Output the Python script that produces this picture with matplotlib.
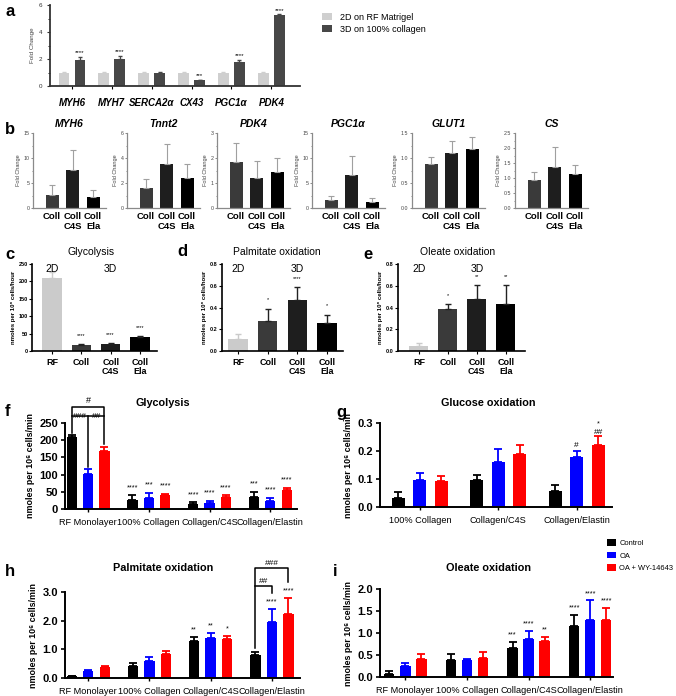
import matplotlib
matplotlib.use('Agg')
import matplotlib.pyplot as plt
import numpy as np
from matplotlib.ticker import AutoMinorLocator

plt.rcParams['font.family'] = ['Liberation Sans', 'DejaVu Sans']

# ---------------- data ----------------
# panel a
a_genes = ['MYH6', 'MYH7', 'SERCA2α', 'CX43', 'PGC1α', 'PDK4']
a_2d = [1.0, 1.0, 1.0, 1.0, 1.0, 1.0]
a_2d_err = [0.02, 0.02, 0.02, 0.02, 0.02, 0.02]
a_3d = [1.95, 1.97, 0.93, 0.42, 1.75, 5.25]
a_3d_err = [0.2, 0.28, 0.12, 0.03, 0.2, 0.05]
a_stars = ['****', '****', '', '***', '****', '****']
a_legend = ['2D on RF Matrigel', '3D on 100% collagen']

# panel b
b_cats = ['Coll', 'Coll\nC4S', 'Coll\nEla']
b_titles = ['MYH6', 'Tnnt2', 'PDK4', 'PGC1α', 'GLUT1', 'CS']
b_myh6 = [2.7, 7.7, 2.3]
b_myh6_err = [2.0, 4.0, 1.4]
b_tnnt2 = [1.6, 3.5, 2.4]
b_tnnt2_err = [0.7, 1.6, 1.1]
b_pdk4 = [1.85, 1.2, 1.45]
b_pdk4_err = [0.75, 0.7, 0.55]
b_pgc1a = [1.7, 6.6, 1.3]
b_pgc1a_err = [0.8, 3.9, 0.8]
b_glut1 = [0.88, 1.1, 1.18]
b_glut1_err = [0.15, 0.25, 0.24]
b_cs = [0.95, 1.37, 1.15]
b_cs_err = [0.25, 0.65, 0.27]
b_yticks = [[0, 5, 10, 15], [0, 2, 4, 6], [0, 1, 2, 3], [0, 5, 10, 15],
            [0.0, 0.5, 1.0, 1.5], [0.0, 0.5, 1.0, 1.5, 2.0, 2.5]]

# panels c-e
ce_cats = ['RF', 'Coll', 'Coll\nC4S', 'Coll\nEla']
c_vals = [210, 16, 20, 40]
c_err = [18, 4, 3, 4]
c_stars = ['', '****', '****', '****']
d_vals = [0.11, 0.28, 0.47, 0.26]
d_err = [0.05, 0.11, 0.115, 0.075]
d_stars = ['', '*', '****', '*']
e_vals = [0.05, 0.39, 0.48, 0.43]
e_err = [0.02, 0.04, 0.125, 0.18]
e_stars = ['', '*', '**', '**']

# panels f-i
groups4 = ['RF Monolayer', '100% Collagen', 'Collagen/C4S', 'Collagen/Elastin']
groups3 = ['100% Collagen', 'Collagen/C4S', 'Collagen/Elastin']
series_names = ['Control', 'OA', 'OA + WY-14643']

f_ctrl = [210, 26, 15, 36]
f_ctrl_err = [6, 14, 4, 14]
f_oa = [103, 32, 17, 22]
f_oa_err = [12, 14, 6, 10]
f_wy = [170, 42, 36, 56]
f_wy_err = [10, 2, 4, 6]
f_stars = [['', '****', '****', '***'], ['', '***', '****', '****'], ['', '****', '****', '****']]

g_ctrl = [0.033, 0.098, 0.056]
g_ctrl_err = [0.019, 0.018, 0.022]
g_oa = [0.098, 0.16, 0.178]
g_oa_err = [0.024, 0.047, 0.022]
g_wy = [0.092, 0.188, 0.222]
g_wy_err = [0.02, 0.034, 0.03]

h_ctrl = [0.06, 0.42, 1.3, 0.8]
h_ctrl_err = [0.02, 0.11, 0.12, 0.1]
h_oa = [0.25, 0.58, 1.4, 1.95]
h_oa_err = [0.02, 0.14, 0.17, 0.47]
h_wy = [0.38, 0.84, 1.35, 2.23]
h_wy_err = [0.04, 0.11, 0.12, 0.57]
h_stars = [['', '', '**', ''], ['', '', '**', '****'], ['', '', '*', '****']]

i_ctrl = [0.07, 0.38, 0.65, 1.17]
i_ctrl_err = [0.06, 0.14, 0.15, 0.25]
i_oa = [0.26, 0.38, 0.87, 1.3]
i_oa_err = [0.06, 0.03, 0.18, 0.44]
i_wy = [0.4, 0.44, 0.82, 1.3]
i_wy_err = [0.12, 0.13, 0.1, 0.26]
i_stars = [['', '', '***', '****'], ['', '', '****', '****'], ['', '', '**', '****']]

# ---------------- figure ----------------
W, H = 676, 696
fig = plt.figure(figsize=(W / 100, H / 100), dpi=100)


def ax_px(l, t, r, b):
    return fig.add_axes([l / W, 1 - b / H, (r - l) / W, (b - t) / H])


def ftext(x, y, s, **kw):
    fig.text(x / W, 1 - y / H, s, **kw)


def letter(x, y, s):
    ftext(x, y, s, fontsize=12, fontweight='bold', ha='left', va='center')


def style(ax, color='black', lw=1.2):
    for sp in ['top', 'right']:
        ax.spines[sp].set_visible(False)
    for sp in ['left', 'bottom']:
        ax.spines[sp].set_color(color)
        ax.spines[sp].set_linewidth(lw)


def up_err(vals, errs):
    return [np.zeros(len(vals)), np.array(errs)]


def bars_each(ax, xs, vals, errs, width, colors, ecolors, capsize, elw):
    for xi, v, e, c, ec in zip(xs, vals, errs, colors, ecolors):
        ax.bar([xi], [v], width, color=c, yerr=[[0], [e]], capsize=capsize,
               error_kw=dict(ecolor=ec, elinewidth=elw, capthick=elw))


# ---- panel a ----
ax = ax_px(50, 5, 300, 86)
style(ax, '#333333', 1.3)
x = np.arange(len(a_genes))
b1 = ax.bar(x - 0.2, a_2d, 0.27, color='#cfcfcf', yerr=up_err(a_2d, a_2d_err), capsize=1.5,
            error_kw=dict(ecolor='#cfcfcf', elinewidth=0.8))
b2 = ax.bar(x + 0.2, a_3d, 0.27, color='#474747', yerr=up_err(a_3d, a_3d_err), capsize=1.5,
            error_kw=dict(ecolor='#474747', elinewidth=0.8))
for xi, v, e, s in zip(x, a_3d, a_3d_err, a_stars):
    if s:
        ax.text(xi + 0.2, v + e + 0.12, s, ha='center', va='bottom', fontsize=4.5)
ax.set_ylim(0, 6)
ax.set_xlim(-0.55, 5.72)
ax.set_yticks([0, 2, 4, 6])
ax.tick_params(axis='y', labelsize=4.5, length=2, width=0.8, colors='#333333')
ax.set_xticks(x)
ax.set_xticklabels(a_genes, fontsize=7, fontweight='bold', fontstyle='italic')
ax.tick_params(axis='x', length=2.5, width=0.8, pad=6)
ax.set_ylabel('Fold Change', fontsize=4.5, color='#444444', labelpad=3)
ax.yaxis.set_minor_locator(AutoMinorLocator(2))
ax.tick_params(axis='y', which='minor', length=1.2, width=0.6)
fig.legend([b1, b2], a_legend, loc='upper left', bbox_to_anchor=(318 / W, 1 - 9 / H),
           frameon=False, fontsize=6.5, handlelength=1.2, handleheight=0.9,
           labelspacing=0.35, handletextpad=0.8, borderaxespad=0)
letter(5, 12, 'a')

# ---- panel b ----
b_data = [(b_myh6, b_myh6_err), (b_tnnt2, b_tnnt2_err), (b_pdk4, b_pdk4_err),
          (b_pgc1a, b_pgc1a_err), (b_glut1, b_glut1_err), (b_cs, b_cs_err)]
b_lefts = [33, 127, 217, 312, 412, 515]
b_colors = ['#3a3a3a', '#1e1e1e', '#000000']
for left, (vals, errs), title, yt in zip(b_lefts, b_data, b_titles, b_yticks):
    ax = ax_px(left, 133, left + 73, 208)
    style(ax, '#8a8a8a', 0.9)
    xb = np.arange(3)
    ax.bar(xb, vals, 0.63, color=b_colors, yerr=up_err(vals, errs), capsize=2,
           error_kw=dict(ecolor='#a0a0a0', elinewidth=0.8, capthick=0.8))
    ax.set_xlim(-0.93, 2.63)
    ax.set_ylim(yt[0], yt[-1])
    ax.set_yticks(yt)
    if isinstance(yt[1], float):
        ax.set_yticklabels(['%.1f' % t for t in yt])
    ax.yaxis.set_minor_locator(AutoMinorLocator(2))
    ax.tick_params(axis='y', which='both', labelsize=3.8, length=1.5, width=0.6,
                   colors='#777777', labelcolor='#444444', pad=1)
    ax.tick_params(axis='y', which='minor', length=0.9)
    ax.set_xticks(xb)
    ax.set_xticklabels(b_cats, fontsize=6.8, fontweight='bold', linespacing=1.05)
    ax.tick_params(axis='x', length=0, pad=3)
    ax.set_ylabel('Fold Change', fontsize=4, color='#444444', labelpad=2)
    ax.set_title(title, fontsize=7.5, fontweight='bold', fontstyle='italic', pad=4)
letter(5, 130, 'b')

# ---- panels c, d, e ----
ce_colors = ['#cbcbcb', '#3a3a3a', '#1e1e1e', '#000000']
ce_ecolors = ['#cbcbcb', '#222222', '#222222', '#222222']
ce_specs = [
    (32, 157, c_vals, c_err, c_stars, 'Glycolysis', (-0.68, 3.58), [0, 50, 100, 150, 200, 250], '%d', 91),
    (222, 343, d_vals, d_err, d_stars, 'Palmitate oxidation', (-0.54, 3.54), [0.0, 0.2, 0.4, 0.6, 0.8], '%.1f', 277),
    (398, 525, e_vals, e_err, e_stars, 'Oleate oxidation', (-0.72, 3.66), [0.0, 0.2, 0.4, 0.6, 0.8], '%.1f', 458),
]
for l, r, vals, errs, stars, title, xl, yt, fmt, tx in ce_specs:
    ax = ax_px(l, 264, r, 351)
    style(ax, 'black', 1.2)
    xb = np.arange(4)
    bars_each(ax, xb, vals, errs, 0.66, ce_colors, ce_ecolors, 2.5, 1.0)
    ax.set_xlim(*xl)
    ax.set_ylim(yt[0], yt[-1])
    ax.set_yticks(yt)
    ax.set_yticklabels([fmt % t for t in yt])
    ax.tick_params(axis='y', labelsize=4, length=2, width=0.8, pad=1)
    for t in ax.get_yticklabels():
        t.set_fontweight('bold')
    ax.set_xticks(xb)
    ax.set_xticklabels(ce_cats, fontsize=6.5, fontweight='bold', linespacing=1.05)
    ax.tick_params(axis='x', length=2, width=0.8, pad=3)
    ax.set_ylabel('nmoles per 10⁶ cells/hour', fontsize=4.3, fontweight='bold', labelpad=2)
    span = yt[-1]
    for xi, v, e, s in zip(xb, vals, errs, stars):
        if s:
            ax.text(xi, v + e + span * 0.07, s, ha='center', va='bottom', fontsize=4)
    ax.text(0, span * 0.995, '2D', ha='center', va='top', fontsize=7.5)
    ax.text(2, span * 0.995, '3D', ha='center', va='top', fontsize=7.5)
    ftext(tx, 252, title, fontsize=7.5, ha='center', va='center')
letter(5, 254, 'c')
letter(177, 252, 'd')
letter(363, 254, 'e')

# ---- panels f-i ----
fi_colors = ['#000000', '#0000ff', '#ff0000']


def grouped(ax, groups, series, errs, offs, width, xl, yt, fmt, stars=None, pad_frac=0.04):
    xg = np.arange(len(groups))
    conts = []
    for k, (vals, e) in enumerate(zip(series, errs)):
        c = fi_colors[k]
        bc = ax.bar(xg + offs[k], vals, width, color=c, yerr=up_err(vals, e), capsize=2.6,
                    error_kw=dict(ecolor=c, elinewidth=1.3, capthick=1.3), label=series_names[k])
        conts.append(bc)
        if stars is not None:
            for xi, v, ee, s in zip(xg, vals, e, stars[k]):
                if s:
                    ax.text(xi + offs[k], v + ee + yt[-1] * pad_frac, s, ha='center',
                            va='bottom', fontsize=5.2)
    style(ax, 'black', 1.4)
    ax.set_xlim(*xl)
    ax.set_ylim(yt[0], yt[-1])
    ax.set_yticks(yt)
    ax.set_yticklabels([fmt % t for t in yt])
    ax.tick_params(axis='y', labelsize=8, length=3, width=1.2, pad=2)
    for t in ax.get_yticklabels():
        t.set_fontweight('bold')
    ax.set_xticks(xg)
    ax.set_xticklabels(groups, fontsize=6.6)
    ax.tick_params(axis='x', length=2.5, width=1.0, pad=4)
    ax.set_ylabel('nmoles per 10⁶ cells/min', fontsize=6.4, fontweight='bold', labelpad=3)
    return xg, conts


off4 = [-0.27, 0.0, 0.27]
# f
ax = ax_px(65, 423, 297, 509)
xg, _ = grouped(ax, groups4, [f_ctrl, f_oa, f_wy], [f_ctrl_err, f_oa_err, f_wy_err],
                off4, 0.17, (-0.38, 3.44), [0, 50, 100, 150, 200, 250], '%d', f_stars, 0.05)
xbk, xbl, xrd = off4[0], off4[1], off4[2]
kw = dict(color='black', lw=1.1, clip_on=False)
ax.plot([xbk, xbk, xrd, xrd], [222, 296, 296, 190], **kw)
ax.plot([xbk, xrd], [270, 270], **kw)
ax.plot([xbl, xbl], [270, 122], **kw)
ax.text((xbk + xrd) / 2, 302, '#', ha='center', va='bottom', fontsize=6.5, clip_on=False)
ax.text((xbk + xbl) / 2, 270, '###', ha='center', va='center', fontsize=6, clip_on=False)
ax.text((xbl + xrd) / 2, 270, '##', ha='center', va='center', fontsize=6, clip_on=False)
ftext(163, 403, 'Glycolysis', fontsize=7.8, fontweight='bold', ha='center', va='center')
letter(5, 412, 'f')

# g
off3 = [-0.274, 0.0, 0.274]
ax = ax_px(380, 423, 612, 507)
xg, _ = grouped(ax, groups3, [g_ctrl, g_oa, g_wy], [g_ctrl_err, g_oa_err, g_wy_err],
                off3, 0.166, (-0.51, 2.45), [0.0, 0.1, 0.2, 0.3], '%.1f')
ax.text(2 + off3[1], g_oa[2] + g_oa_err[2] + 0.006, '#', ha='center', va='bottom', fontsize=6)
ax.text(2 + off3[2], g_wy[2] + g_wy_err[2] + 0.003, '##', ha='center', va='bottom', fontsize=6,
        clip_on=False)
ax.text(2 + off3[2], g_wy[2] + g_wy_err[2] + 0.034, '*', ha='center', va='bottom', fontsize=5.2,
        clip_on=False)
ftext(488, 403, 'Glucose oxidation', fontsize=7.8, fontweight='bold', ha='center', va='center')
letter(336, 412, 'g')

# h
ax = ax_px(65, 592, 300, 678)
xg, conts = grouped(ax, groups4, [h_ctrl, h_oa, h_wy], [h_ctrl_err, h_oa_err, h_wy_err],
                    off4, 0.17, (-0.38, 3.46), [0.0, 1.0, 2.0, 3.0], '%.1f', h_stars, 0.04)
xbk, xbl, xrd = 3 + off4[0], 3 + off4[1], 3 + off4[2]
ax.plot([xbk, xbk, xrd, xrd], [1.05, 3.84, 3.84, 3.35], **kw)
ax.plot([xbk, xbl, xbl], [3.21, 3.21, 2.96], **kw)
ax.text((xbk + xbl) / 2, 3.25, '##', ha='center', va='bottom', fontsize=6, clip_on=False)
ax.text((xbk + xrd) / 2, 3.88, '###', ha='center', va='bottom', fontsize=6, clip_on=False)
ftext(163, 568, 'Palmitate oxidation', fontsize=7.8, fontweight='bold', ha='center', va='center')
letter(5, 572, 'h')

# i
ax = ax_px(380, 589, 613, 677)
xg, conts = grouped(ax, groups4, [i_ctrl, i_oa, i_wy], [i_ctrl_err, i_oa_err, i_wy_err],
                    [-0.26, 0.0, 0.26], 0.17, (-0.41, 3.37), [0.0, 0.5, 1.0, 1.5, 2.0], '%.1f',
                    i_stars, 0.04)
ftext(488, 568, 'Oleate oxidation', fontsize=7.8, fontweight='bold', ha='center', va='center')
letter(333, 572, 'i')

fig.legend(conts, series_names, loc='upper left', bbox_to_anchor=(604 / W, 1 - 536 / H),
           frameon=False, fontsize=5.4, handlelength=1.25, handleheight=1.05,
           labelspacing=0.6, handletextpad=0.4, borderaxespad=0)

fig.savefig('out.png', dpi=100)
